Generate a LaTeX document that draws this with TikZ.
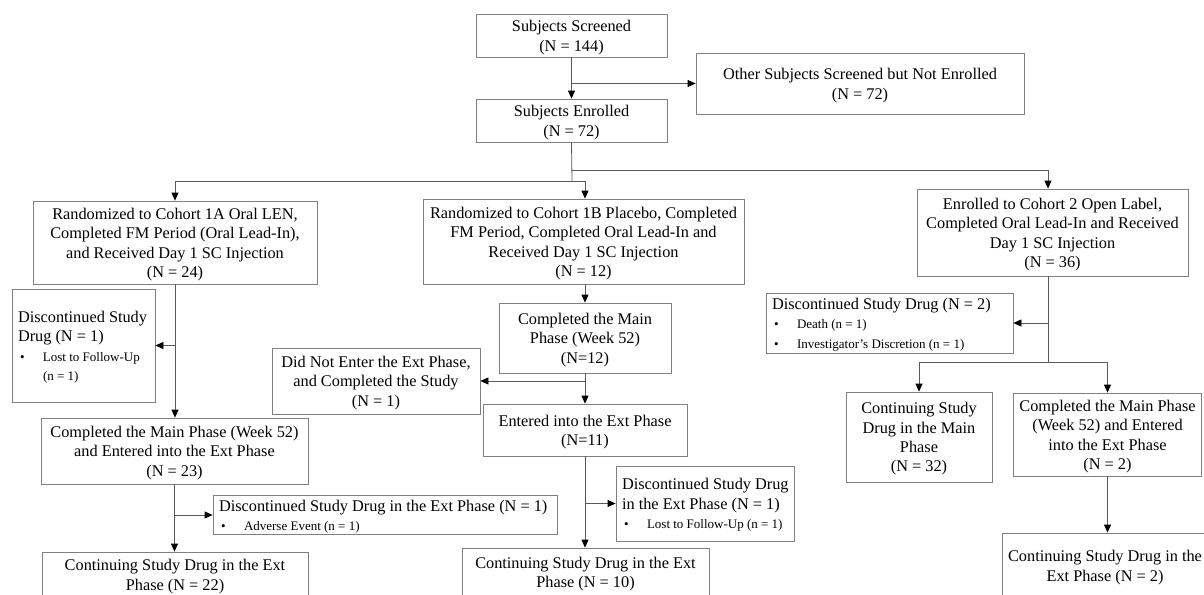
\documentclass[tikz,border=0pt]{standalone}
\usepackage{fontspec}
\setmainfont{Liberation Serif}
\usetikzlibrary{arrows.meta}
\definecolor{boxgray}{RGB}{128,128,128}
\definecolor{linegray}{RGB}{89,89,89}
\newcommand{\bul}[1]{{\fontsize{13}{19}\selectfont\makebox[25pt][l]{\hspace{2pt}\textbullet}#1}}
\newcommand{\bulc}[1]{{\fontsize{13}{19}\selectfont\makebox[25pt][l]{}#1}}
% centred text, lowered a little inside its box
\newcommand{\tx}[1]{\raisebox{-2pt}[\height][\depth]{\begin{tabular}{@{}c@{}}#1\end{tabular}}}
% left-aligned text block of a given width
\newcommand{\lx}[2]{\raisebox{-2pt}[\height][\depth]{\makebox[#1][l]{\begin{tabular}{@{}l@{}}#2\end{tabular}}}}
\tikzset{
  box/.style={draw=boxgray, line width=0.8pt, inner xsep=6pt, inner ysep=0pt,
    font=\fontsize{16.3}{19.4}\selectfont},
  conn/.style={draw=linegray, line width=0.8pt},
  arr/.style={conn, -{Triangle[length=8pt,width=7pt,color=black]}},
}
\begin{document}
\begin{tikzpicture}[x=1pt,y=-1pt]
\useasboundingbox (0,0) rectangle (1204,594);
\fill[white] (0,0) rectangle (1204,594);
\clip (0,0) rectangle (1204,594);

% top
\node[box, minimum width=191, minimum height=43] (scr) at (571.5,35.5) {\tx{Subjects Screened\\(N = 144)}};
\node[box, minimum width=328, minimum height=61] (oth) at (860,83.5) {\tx{Other Subjects Screened but Not Enrolled\\(N = 72)}};
\node[box, minimum width=191, minimum height=43] (enr) at (571.5,120.5) {\tx{Subjects Enrolled\\(N = 72)}};

% cohorts
\node[box, minimum width=284, minimum height=83] (c1a) at (175,242.5) {\tx{Randomized to Cohort 1A Oral LEN,\\Completed FM Period (Oral Lead-In),\\and Received Day 1 SC Injection\\(N = 24)}};
\node[box, minimum width=321, minimum height=85] (c1b) at (583.5,241.5) {\tx{Randomized to Cohort 1B Placebo, Completed\\FM Period, Completed Oral Lead-In and\\Received Day 1 SC Injection\\(N = 12)}};
\node[box, minimum width=271, minimum height=87] (c2) at (1052.5,232.5) {\tx{Enrolled to Cohort 2 Open Label,\\Completed Oral Lead-In and Received\\Day 1 SC Injection\\(N = 36)}};

% cohort 1A column
\node[box, minimum width=143, minimum height=113] (d1a) at (83.5,345.5) {\lx{131pt}{Discontinued Study\\Drug (N = 1)\\\bul{Lost to Follow-Up}\\\bulc{(n = 1)}}};
\node[box, minimum width=267, minimum height=66] (m1a) at (174.5,451) {\tx{Completed the Main Phase (Week 52)\\and Entered into the Ext Phase\\(N = 23)}};
\node[box, minimum width=344, minimum height=36] (dx1a) at (385,515) {\lx{332pt}{Discontinued Study Drug in the Ext Phase (N = 1)\\\bul{Adverse Event (n = 1)}}};
\node[box, minimum width=266, minimum height=45] (co1a) at (175,574.5) {\tx{Continuing Study Drug in the Ext\\Phase (N = 22)}};

% cohort 1B column
\node[box, minimum width=172, minimum height=70] (m1b) at (585,338) {\tx{Completed the Main\\Phase (Week 52)\\(N=12)}};
\node[box, minimum width=208, minimum height=66] (dn1b) at (376,381) {\tx{Did Not Enter the Ext Phase,\\and Completed the Study\\(N = 1)}};
\node[box, minimum width=204, minimum height=52] (e1b) at (585,430) {\tx{Entered into the Ext Phase\\(N=11)}};
\node[box, minimum width=178, minimum height=75] (dx1b) at (705,503.5) {\lx{166pt}{Discontinued Study Drug\\in the Ext Phase (N = 1)\\\bul{Lost to Follow-Up (n = 1)}}};
\node[box, minimum width=247, minimum height=48] (co1b) at (585.5,572) {\tx{Continuing Study Drug in the Ext\\Phase (N = 10)}};

% cohort 2 column
\node[box, minimum width=247, minimum height=60] (d2) at (889.5,323) {\lx{235pt}{Discontinued Study Drug (N = 2)\\\bul{Death (n = 1)}\\\bul{Investigator's Discretion (n = 1)}}};
\node[box, minimum width=146, minimum height=90] (cm2) at (919,437) {\tx{Continuing Study\\Drug in the Main\\Phase\\(N = 32)}};
\node[box, minimum width=187, minimum height=83] (m2) at (1107.5,434.5) {\tx{Completed the Main Phase\\(Week 52) and Entered\\into the Ext Phase\\(N = 2)}};
\node[box, minimum width=202, minimum height=65] (co2) at (1105,565.5) {\tx{Continuing Study Drug in the\\Ext Phase (N = 2)}};

% junction coordinates
\coordinate (jL) at (572,181);
\coordinate (jR) at (572,170);
\coordinate (s2) at (1048,362);

% connectors
\draw[arr] (scr.south) -- (enr.north);
\draw[arr] (scr.south |- oth.west) -- (oth.west);
\draw[conn] (enr.south) -- (jL);
\draw[arr] (jL) -| (c1a.north);
\draw[arr] (jL) -| ([xshift=1.5pt]c1b.north);
\draw[arr] (jR) -| ([xshift=-4.5pt]c2.north);

\draw[arr] (c1a.south) -- (c1a.south |- m1a.north);
\draw[arr] (c1a.south |- d1a.east) -- (d1a.east);
\draw[arr] (m1a.south) -- (m1a.south |- co1a.north);
\draw[arr] (m1a.south |- dx1a.west) -- (dx1a.west);

\draw[arr] (m1b.north |- c1b.south) -- (m1b.north);
\draw[arr] (m1b.south) -- (e1b.north);
\draw[arr] (m1b.south |- dn1b.east) -- (dn1b.east);
\draw[arr] (e1b.south) -- (e1b.south |- co1b.north);
\draw[arr] (e1b.south |- dx1b.west) -- (dx1b.west);

\draw[conn] (c2.south -| s2) -- (s2);
\draw[arr] (s2 |- d2.east) -- (d2.east);
\draw[arr] (s2) -| (cm2.north);
\draw[arr] (s2) -| (m2.north);
\draw[arr] (m2.south) -- (m2.south |- co2.north);
\end{tikzpicture}
\end{document}
